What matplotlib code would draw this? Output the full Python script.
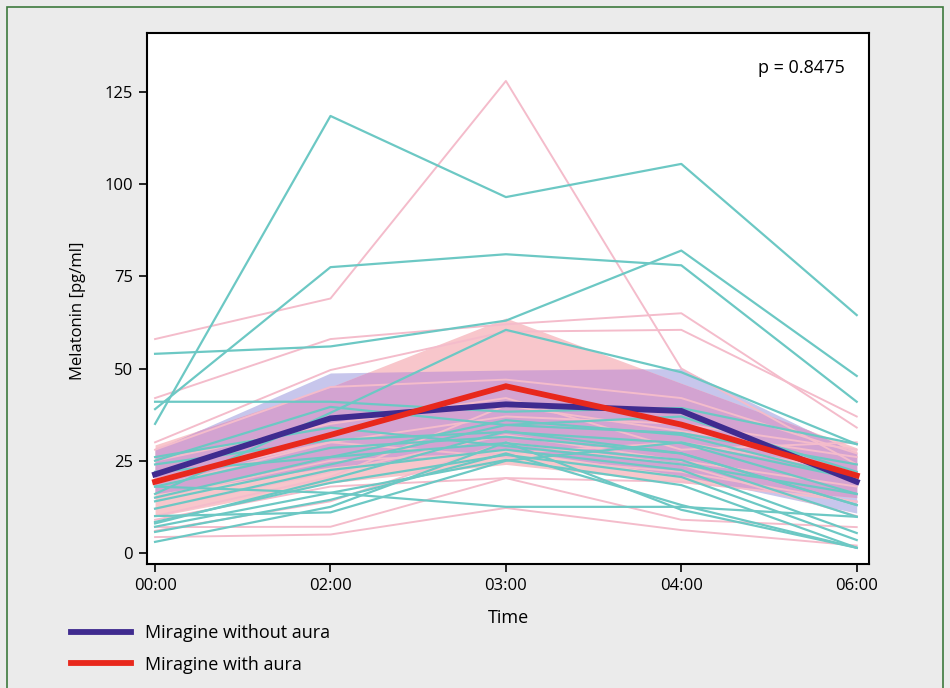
import numpy as np
import matplotlib.pyplot as plt
from matplotlib.patches import Rectangle

plt.rcParams['font.family'] = ['Open Sans', 'DejaVu Sans']

times = ["00:00", "02:00", "03:00", "04:00", "06:00"]

# individual patients, migraine without aura (teal)
no_aura = [
    [35, 118.5, 96.5, 105.5, 64.5],
    [39, 77.5, 81, 78, 41],
    [54, 56, 63, 82, 48],
    [41, 41, 38.3, 39.3, 29.5],
    [16, 38, 60.5, 49, 29.5],
    [25, 39.6, 34.7, 32.5, 24],
    [24, 30.6, 32.8, 29.8, 16],
    [18, 28.5, 31.5, 27, 13],
    [15, 26, 29.8, 25.2, 9.8],
    [12, 22.5, 28, 22.5, 5.4],
    [8.4, 19, 26.6, 20.6, 3.5],
    [7.1, 16.3, 25.2, 18.4, 1.4],
    [5.7, 14.4, 27, 13, 1.4],
    [3, 12.5, 30, 11.7, 1.4],
    [18, 16.3, 12.5, 12.5, 9.8],
    [10, 11, 25, 30, 20],
    [8, 20, 33, 27, 13],
    [22, 26, 36, 32, 20],
    [26, 34, 29, 24, 16],
    [14, 24, 34.7, 37, 22],
]

# individual patients, migraine with aura (pink)
with_aura = [
    [58, 69, 128, 50, 24],
    [42, 58, 62, 65, 34],
    [30, 49.6, 60, 60.5, 37],
    [28, 45, 47, 42, 27],
    [20, 30, 37, 35, 28],
    [15, 25, 27, 30, 22],
    [10, 20.6, 40, 33, 26],
    [9, 18, 20.3, 19.3, 14],
    [7, 7.1, 20.3, 9, 7],
    [4.3, 5, 12.2, 6.2, 2],
    [12, 22, 32, 25, 18],
    [25, 35, 42, 28, 30],
    [18, 30, 26, 22, 13.8],
    [6, 14, 30, 24, 10],
]

mean_no_aura = [21.3, 36.5, 40.3, 38.5, 19.3]
mean_with_aura = [19.3, 32, 45.2, 34.8, 21]
band_no_aura_hi = [28, 48.8, 49.6, 50, 27]
band_no_aura_lo = [16, 23.3, 28, 21, 10.8]
band_with_aura_hi = [29.3, 45, 63.7, 46, 28.5]
band_with_aura_lo = [9.8, 19, 24, 19, 15]

x = np.arange(len(times))

fig = plt.figure(figsize=(9.5, 6.88), dpi=100)
fig.patch.set_facecolor('#ebebeb')
fig.patches.append(Rectangle((7 / 950, -0.01), 936 / 950, 1 - 7 / 688 + 0.01,
                             transform=fig.transFigure, fill=False,
                             edgecolor='#3d7a3d', lw=1.2))

ax = fig.add_axes([147 / 950, 124 / 688, 722 / 950, 531 / 688])
ax.set_facecolor('white')

# bands: each alone, then where they overlap
ax.fill_between(x, band_no_aura_lo, band_no_aura_hi, color='#c7c6ec', lw=0)
ax.fill_between(x, band_with_aura_lo, band_with_aura_hi, color='#f8c6cb', lw=0)
xf = np.linspace(x[0], x[-1], 400)
lo = np.maximum(np.interp(xf, x, band_no_aura_lo), np.interp(xf, x, band_with_aura_lo))
hi = np.minimum(np.interp(xf, x, band_no_aura_hi), np.interp(xf, x, band_with_aura_hi))
ax.fill_between(xf, lo, hi, where=hi > lo, color='#d3a3d1', lw=0)

for row in with_aura:
    ax.plot(x, row, color='#f4bccb', lw=1.4)
for row in no_aura:
    ax.plot(x, row, color='#6cc8c4', lw=1.6)

l1, = ax.plot(x, mean_no_aura, color='#3f2b8f', lw=4.2, solid_joinstyle='miter')
l2, = ax.plot(x, mean_with_aura, color='#e8281c', lw=4.2, solid_joinstyle='miter')

ax.set_xlim(-0.046, 4.07)
ax.set_ylim(-3, 141)
ax.set_xticks(x)
ax.set_xticklabels(times)
ax.set_yticks([0, 25, 50, 75, 100, 125])
ax.tick_params(direction='out', length=6, width=1.2, labelsize=12, pad=4)
for s in ax.spines.values():
    s.set_linewidth(1.5)

ax.set_xlabel("Time", fontsize=13, labelpad=11)
ax.set_ylabel("Melatonin [pg/ml]", fontsize=12)
ax.yaxis.set_label_coords(-0.085, 0.476)
ax.text(0.967, 0.934, "p = 0.8475", transform=ax.transAxes, ha='right', va='center', fontsize=13)

fig.legend(handles=[l1, l2], labels=["Miragine without aura", "Miragine with aura"],
           loc='upper left', bbox_to_anchor=(55 / 950, 1 - 608 / 688), frameon=False,
           fontsize=13, handlelength=3.3, labelspacing=0.75, handletextpad=0.8)

fig.savefig("out.png", dpi=100, facecolor=fig.get_facecolor())
